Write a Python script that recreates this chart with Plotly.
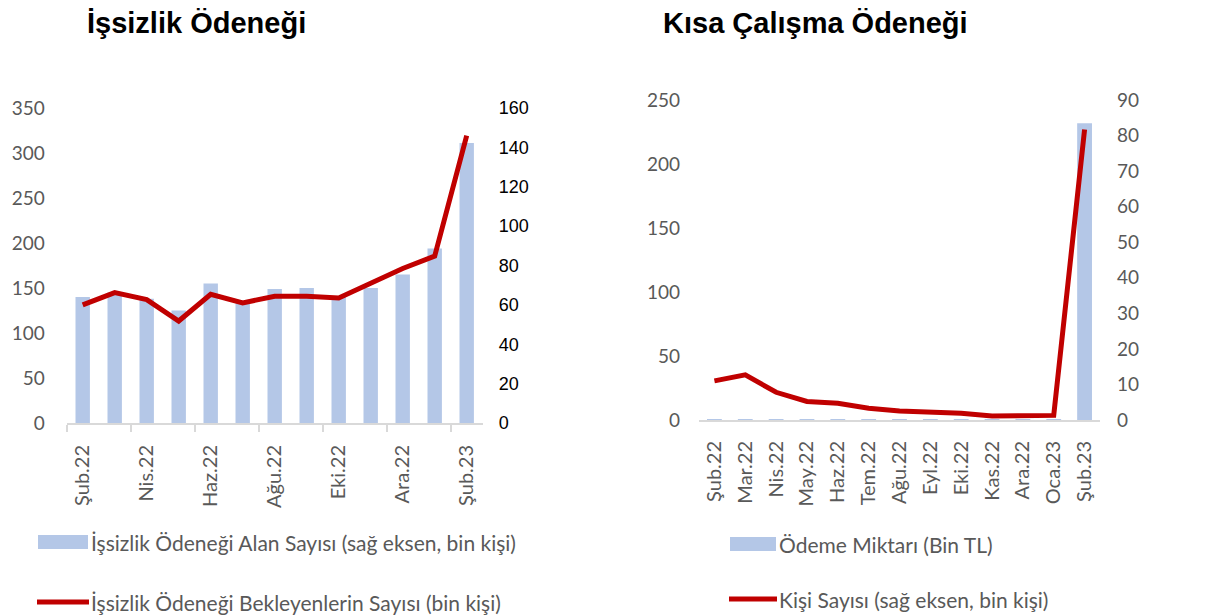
import plotly.graph_objects as go

# ---------------- data ----------------
months = ["Şub.22", "Mar.22", "Nis.22", "May.22", "Haz.22", "Tem.22", "Ağu.22",
          "Eyl.22", "Eki.22", "Kas.22", "Ara.22", "Oca.23", "Şub.23"]
alan_sayisi = [140, 145, 138, 125, 155, 133, 149, 150, 141, 150, 165, 194, 311]
bekleyen = [60, 66.2, 62.7, 51.8, 65.4, 61, 64.4, 64.4, 63.5, 70.8, 78.5, 84.8, 146]
odeme_miktari = [0.75, 0.65, 0.5, 0.45, 0.45, 0.4, 0.35, 0.35, 0.3, 0.25, 0.25, 0.3, 231.8]
kisi_sayisi = [11.0, 12.7, 7.8, 5.2, 4.7, 3.3, 2.5, 2.25, 1.9, 1.1, 1.3, 1.3, 81.7]

title_left = "İşsizlik Ödeneği"
title_right = "Kısa Çalışma Ödeneği"
leg_left_bar = "İşsizlik Ödeneği Alan Sayısı (sağ eksen, bin kişi)"
leg_left_line = "İşsizlik Ödeneği Bekleyenlerin Sayısı (bin kişi)"
leg_right_bar = "Ödeme Miktarı (Bin TL)"
leg_right_line = "Kişi Sayısı (sağ eksen, bin kişi)"

BAR = "#B4C7E7"
LINE = "#C00000"
GRAY = "#595959"
AXIS = "#D9D9D9"
FONT = "Lato, Carlito, sans-serif"
ARIAL = "Liberation Sans, Arial, sans-serif"

W, H = 1231, 615
OFF = 8  # page body margin
idx = list(range(len(months)))

fig = go.Figure()
fig.add_trace(go.Bar(x=idx, y=alan_sayisi, marker_color=BAR, width=0.45,
                     xaxis="x", yaxis="y", showlegend=False))
fig.add_trace(go.Scatter(x=idx, y=bekleyen, mode="lines",
                         line=dict(color=LINE, width=5), xaxis="x", yaxis="y2",
                         showlegend=False))
fig.add_trace(go.Bar(x=idx, y=odeme_miktari, marker_color=BAR, width=0.48,
                     xaxis="x2", yaxis="y3", showlegend=False))
fig.add_trace(go.Scatter(x=idx, y=kisi_sayisi, mode="lines",
                         line=dict(color=LINE, width=5), xaxis="x2", yaxis="y4",
                         showlegend=False))

px = lambda v: (v - OFF) / W
py = lambda v: 1 - (v - OFF) / H

left_dom_x = [px(66.7), px(482.7)]
left_dom_y = [py(423), py(108)]
right_dom_x = [px(699), px(1100)]
right_dom_y = [py(420), py(100)]

tick_font = dict(family=FONT, size=19, color=GRAY)
xtick_font = dict(family=FONT, size=20, color=GRAY)

fig.update_layout(
    template="none",
    width=W, height=H, margin=dict(l=0, r=0, t=0, b=0, autoexpand=False),
    paper_bgcolor="white", plot_bgcolor="white",
    showlegend=False,
    xaxis=dict(domain=left_dom_x, anchor="y", range=[-0.5, 12.5], automargin=False,
               tickmode="array", tickvals=idx[::2], ticktext=months[::2],
               tickangle=-90, tickfont=xtick_font, ticklabelstandoff=12,
               ticks="", showline=True, linecolor=AXIS, linewidth=2,
               showgrid=False, zeroline=False,
               minor=dict(tickmode="array", tickvals=[i - 0.5 for i in idx[::2]],
                          ticks="outside", ticklen=7, tickcolor=AXIS, tickwidth=2,
                          showgrid=False)),
    yaxis=dict(domain=left_dom_y, anchor="x", range=[0, 350], dtick=50, automargin=False,
               tickfont=tick_font, showgrid=False, zeroline=False, showline=False,
               ticks="", ticklabelstandoff=21),
    yaxis2=dict(overlaying="y", side="right", anchor="x", range=[0, 160], dtick=20,
                automargin=False, ticks="",
                tickfont=dict(family=ARIAL, size=18, color="#000000"),
                showgrid=False, zeroline=False, showline=False, ticklabelstandoff=15),
    xaxis2=dict(domain=right_dom_x, anchor="y3", range=[-0.5, 12.5], automargin=False,
                tickmode="array", tickvals=idx, ticktext=months,
                tickangle=-90, tickfont=xtick_font, ticklabelstandoff=11,
                ticks="", showline=True, linecolor=AXIS, linewidth=2,
                showgrid=False, zeroline=False),
    yaxis3=dict(domain=right_dom_y, anchor="x2", range=[0, 250], dtick=50, automargin=False,
                tickfont=tick_font, showgrid=False, zeroline=False, showline=False,
                ticks="", ticklabelstandoff=18),
    yaxis4=dict(overlaying="y3", side="right", anchor="x2", range=[0, 90], dtick=10,
                automargin=False, ticks="",
                tickfont=tick_font, showgrid=False, zeroline=False, showline=False,
                ticklabelstandoff=16),
)

# titles
ann = []
ann.append(dict(text="<b>" + title_left + "</b>", x=px(85), y=py(23), xref="paper", yref="paper",
                xanchor="left", yanchor="middle", showarrow=False,
                font=dict(family=ARIAL, size=29, color="#000000")))
ann.append(dict(text="<b>" + title_right + "</b>", x=px(661), y=py(23), xref="paper", yref="paper",
                xanchor="left", yanchor="middle", showarrow=False,
                font=dict(family=ARIAL, size=29, color="#000000")))

# custom legends
leg_font = dict(family=FONT, size=21, color=GRAY)
legends = [
    (38, 88, 542, "bar", leg_left_bar, 89),
    (37, 89, 602, "line", leg_left_line, 89),
    (730, 776, 544, "bar", leg_right_bar, 777),
    (729, 777, 599, "line", leg_right_line, 777),
]
shapes = []
for x0, x1, yc, kind, text, tx in legends:
    if kind == "bar":
        shapes.append(dict(type="rect", xref="paper", yref="paper",
                           x0=px(x0), x1=px(x1), y0=py(yc + 7), y1=py(yc - 7),
                           fillcolor=BAR, line=dict(width=0)))
    else:
        shapes.append(dict(type="line", xref="paper", yref="paper",
                           x0=px(x0), x1=px(x1), y0=py(yc), y1=py(yc),
                           line=dict(color=LINE, width=5)))
    ann.append(dict(text=text, x=px(tx), y=py(yc), xref="paper", yref="paper",
                    xanchor="left", yanchor="middle", showarrow=False, font=leg_font))

fig.update_layout(annotations=ann, shapes=shapes)
fig.write_html("out.html")
